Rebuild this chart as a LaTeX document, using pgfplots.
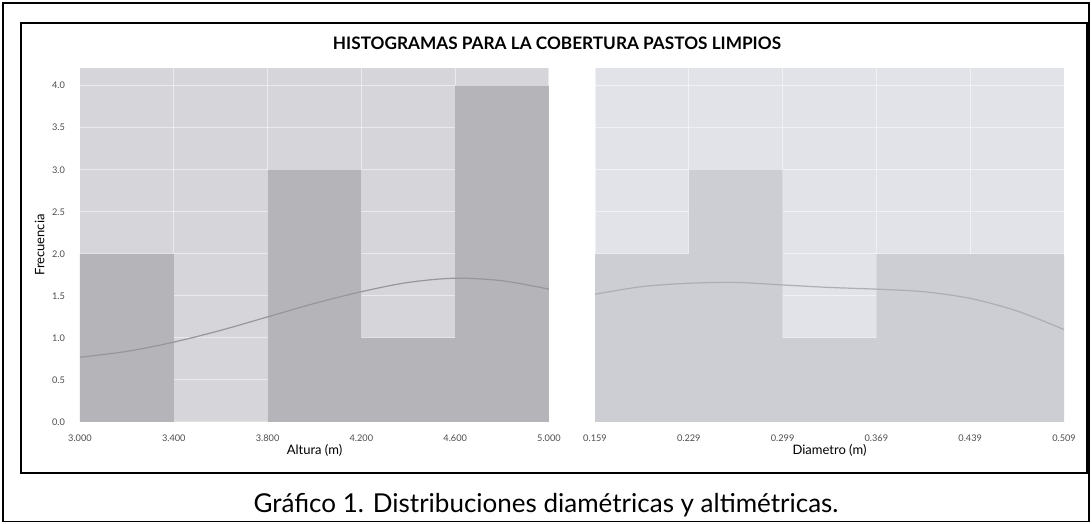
\documentclass[border=0pt]{standalone}
\usepackage{fontspec}
\setmainfont{Lato}
\usepackage{pgfplots}
\pgfplotsset{compat=1.18}
\definecolor{bgL}{RGB}{214,214,218}
\definecolor{barL}{RGB}{180,180,185}
\definecolor{bgR}{RGB}{226,227,233}
\definecolor{barR}{RGB}{204,206,212}
\definecolor{kde}{RGB}{150,150,155}
\begin{document}
\begin{tikzpicture}
\path[use as bounding box] (0,0) rectangle (546pt,262pt);
\draw[line width=0.8pt] (1.5pt,1.2pt) rectangle (544.6pt,260.5pt);
\draw[line width=1.1pt] (10.5pt,25.5pt) rectangle (543.5pt,250.5pt);
\node[font=\fontsize{8.6}{10}\selectfont\bfseries] at (278.5pt,240.5pt) {HISTOGRAMAS PARA LA COBERTURA PASTOS LIMPIOS};
\node[font=\fontsize{13}{15}\selectfont] at (273pt,9.5pt) {Gráfico 1. Distribuciones diamétricas y altimétricas.};
\pgfplotsset{
  histstyle/.style={
    scale only axis, width=234.5pt, height=177pt, anchor=south west,
    ymin=0, ymax=4.21,
    axis line style={draw=none},
    major tick length=0pt,
    grid=major,
    major grid style={white, line width=0.5pt, opacity=0.5},
    ticklabel style={font=\fontsize{4.6}{5}\selectfont, text=black!70},
    label style={font=\fontsize{6.5}{8}\selectfont},
    /pgf/number format/assume math mode=true,
    ytick={0,0.5,...,4.0},
    xticklabel style={yshift=-3pt},
    xlabel style={yshift=5.5pt},
  }
}
\begin{axis}[histstyle, at={(40pt,51pt)},
  axis background/.style={fill=bgL},
  xmin=3.0, xmax=5.0,
  xtick={3.0,3.4,3.8,4.2,4.6,5.0},
  xticklabel style={/pgf/number format/fixed, /pgf/number format/fixed zerofill, /pgf/number format/precision=3},
  yticklabel style={xshift=-4pt, /pgf/number format/fixed, /pgf/number format/fixed zerofill, /pgf/number format/precision=1},
  xlabel={Altura (m)}, ylabel={Frecuencia},
  ylabel style={yshift=-3pt},
]
\addplot[ybar interval, fill=barL, draw=none] coordinates {
 (3.0,2) (3.4,0) (3.8,3) (4.2,1) (4.6,4) (5.0,4)};
\addplot[kde, line width=0.6pt, smooth] coordinates {
 (3.0,0.77) (3.2,0.84) (3.4,0.95) (3.6,1.09) (3.8,1.25) (4.0,1.41) (4.2,1.55) (4.4,1.66) (4.6,1.71) (4.8,1.68) (5.0,1.58)};
\end{axis}
\begin{axis}[histstyle, at={(297.5pt,51pt)},
  axis background/.style={fill=bgR},
  xmin=0.159, xmax=0.509,
  xtick={0.159,0.229,0.299,0.369,0.439,0.509},
  xticklabel style={/pgf/number format/fixed, /pgf/number format/fixed zerofill, /pgf/number format/precision=3},
  yticklabels={},
  xlabel={Diametro (m)},
]
\addplot[ybar interval, fill=barR, draw=none] coordinates {
 (0.159,2) (0.229,3) (0.299,1) (0.369,2) (0.439,2) (0.509,2)};
\addplot[kde!70!bgR, line width=0.6pt, smooth] coordinates {
 (0.159,1.52) (0.194,1.61) (0.229,1.65) (0.264,1.66) (0.299,1.63) (0.334,1.60) (0.369,1.58) (0.404,1.55) (0.439,1.47) (0.474,1.32) (0.509,1.10)};
\end{axis}
\end{tikzpicture}
\end{document}
